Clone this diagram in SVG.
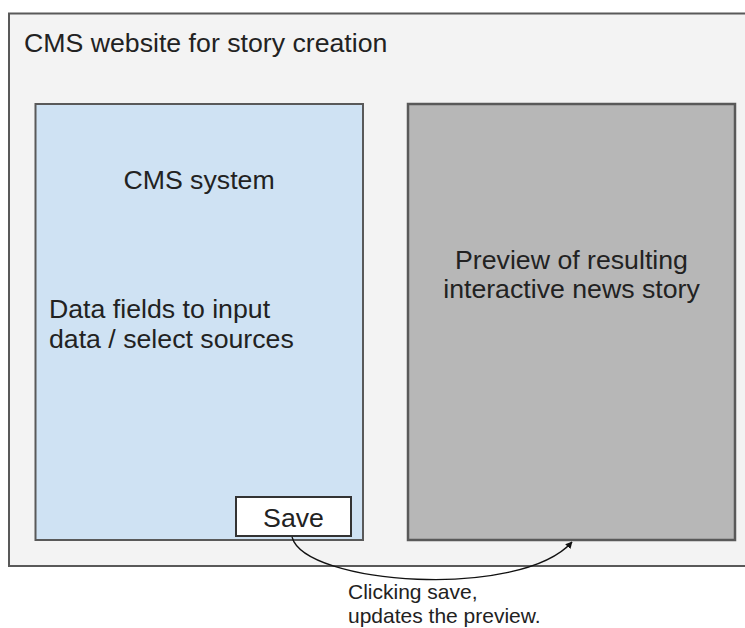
<svg xmlns="http://www.w3.org/2000/svg" width="745" height="628" viewBox="0 0 745 628">
  <defs>
    <style>
      .box { stroke: #595959; stroke-width: 2; }
      .txt { font-family: "Liberation Sans", Arial, sans-serif; fill: #222; font-size: 26.7px; }
      .small { font-family: "Liberation Sans", Arial, sans-serif; fill: #222; font-size: 21px; }
      .link { fill: none; stroke: #111; stroke-width: 1.3; }
    </style>
    <marker id="arrow" viewBox="0 0 10 10" refX="9" refY="5" markerWidth="7" markerHeight="7" orient="auto" markerUnits="userSpaceOnUse">
      <path d="M0,0 L10,5 L0,10 z" fill="#111"/>
    </marker>
  </defs>
  <rect width="745" height="628" fill="#ffffff"/>

  <g id="website">
    <rect class="box" x="9" y="13.5" width="745" height="552.5" fill="#f3f3f3"/>
    <text class="txt" x="24" y="52">CMS website for story creation</text>
  </g>

  <g id="cms-system">
    <rect class="box" x="35.5" y="104" width="327.5" height="436" fill="#cfe2f3"/>
    <text class="txt" x="199" y="189" text-anchor="middle">CMS system</text>
    <text class="txt" x="49" y="318">Data fields to input</text>
    <text class="txt" x="49" y="348">data / select sources</text>
  </g>

  <g id="preview">
    <rect x="408" y="104" width="327" height="436" fill="#b7b7b7" stroke="#595959" stroke-width="2.5"/>
    <text class="txt" x="571.5" y="269" text-anchor="middle">Preview of resulting</text>
    <text class="txt" x="571.5" y="298" text-anchor="middle">interactive news story</text>
  </g>

  <g id="save">
    <rect x="236" y="497" width="115" height="39" fill="#ffffff" stroke="#333" stroke-width="2"/>
    <text class="txt" x="293.5" y="527" text-anchor="middle" font-size="26">Save</text>
  </g>

  <g id="connectors">
    <path class="link" d="M292,537 C305,585 520,600 572,542" marker-end="url(#arrow)"/>
    <text class="small" x="348" y="599">Clicking save,</text>
    <text class="small" x="348" y="623">updates the preview.</text>
  </g>
</svg>
